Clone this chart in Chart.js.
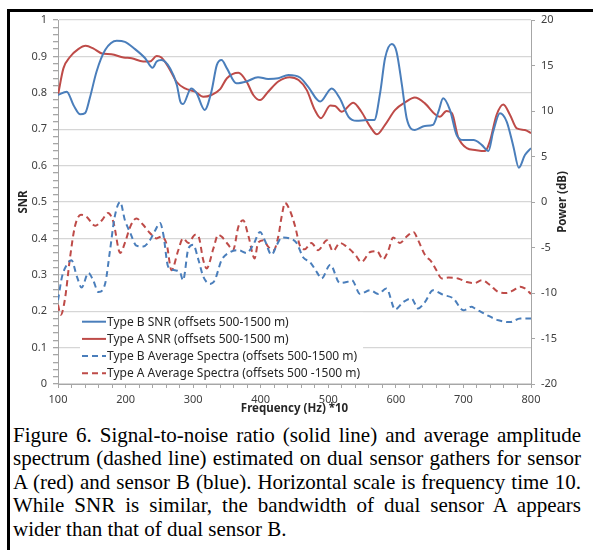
<!DOCTYPE html>
<html>
<head>
<meta charset="utf-8">
<script src="https://cdn.jsdelivr.net/npm/chart.js@4.4.1/dist/chart.umd.min.js"></script>
<style>
  body { margin: 0; background: #fff; width: 593px; height: 550px; overflow: hidden; position: relative; }
  #frame { position: absolute; left: 7px; top: 9px; width: 640px; height: 600px; border-left: 3px solid #000; border-top: 3px solid #000; }
  #snrChart { position: absolute; left: 0; top: 0; }
  #caption { position: absolute; left: 13px; top: 424px; width: 568px; font-family: "Liberation Serif", "Times New Roman", serif; font-size: 21px; line-height: 23.4px; text-align: justify; color: #000; }
</style>
</head>
<body>
<div id="frame"></div>
<canvas id="snrChart" width="593" height="420"></canvas>
<div id="caption">Figure 6. Signal-to-noise ratio (solid line) and average amplitude spectrum (dashed line) estimated on dual sensor gathers for sensor A (red) and sensor B (blue). Horizontal scale is frequency time 10. While SNR is similar, the bandwidth of dual sensor A appears wider than that of dual sensor B.</div>
<script>
// series labels
const seriesNames = ['Type B SNR (offsets 500-1500 m)', 'Type A SNR (offsets 500-1500 m)',
  'Type B Average Spectra (offsets 500-1500 m)', 'Type A Average Spectra (offsets 500 -1500 m)'];

// Type B SNR (blue solid, left axis)
const bSnrFreq = [100,113,123,133,140,147,157,170,187,199,214,229,240,246,253,266,276,281,285,297,305,317,327,335,342,350,364,379,396,411,426,441,458,470,488,505,517,530,542,557,568,577,584,594,601,609,616,628,643,655,663,670,680,690,700,715,727,737,744,754,764,774,782,791,800];
const bSnr = [0.794,0.803,0.766,0.741,0.744,0.785,0.858,0.918,0.943,0.940,0.920,0.895,0.869,0.886,0.890,0.867,0.821,0.776,0.769,0.812,0.799,0.753,0.803,0.876,0.890,0.867,0.826,0.831,0.843,0.838,0.840,0.849,0.842,0.817,0.776,0.812,0.785,0.734,0.723,0.725,0.725,0.803,0.895,0.934,0.913,0.821,0.730,0.698,0.709,0.712,0.748,0.785,0.753,0.684,0.670,0.670,0.657,0.640,0.693,0.744,0.721,0.652,0.594,0.629,0.648];

// Type A SNR (red solid, left axis)
const aSnrFreq = [100,108,118,130,141,152,165,179,197,209,226,236,246,253,263,276,288,303,315,327,340,350,367,379,389,399,411,426,443,456,468,480,489,503,510,520,537,549,562,572,584,599,614,628,643,658,665,675,683,692,705,717,732,739,749,759,769,779,791,800];
const aSnr = [0.794,0.867,0.899,0.920,0.929,0.922,0.908,0.906,0.897,0.895,0.886,0.886,0.901,0.897,0.872,0.829,0.812,0.803,0.789,0.794,0.810,0.840,0.855,0.831,0.794,0.780,0.803,0.831,0.843,0.835,0.808,0.753,0.730,0.765,0.764,0.748,0.773,0.748,0.707,0.686,0.712,0.753,0.774,0.787,0.771,0.741,0.734,0.750,0.744,0.679,0.648,0.643,0.640,0.666,0.739,0.768,0.739,0.702,0.698,0.689];

// Type B average spectra in dB (blue dashed, right axis)
const bSpecFreq = [100,106,113,120,128,135,145,152,160,170,177,184,192,199,207,216,226,236,244,251,256,263,273,281,285,293,300,308,315,325,332,342,355,367,379,389,399,406,416,424,431,443,453,463,473,483,490,503,517,527,535,547,562,574,586,599,611,623,633,643,655,670,685,700,712,717,734,752,769,784,800];
const bSpec = [-10.8,-8.2,-6.9,-6.4,-8.2,-9.4,-7.8,-8.6,-9.9,-8.9,-5.3,-1.6,0,-2.0,-3.4,-4.8,-4.9,-4.2,-3.1,-2.3,-3.6,-7.1,-7.5,-7.8,-8.6,-5.1,-4.7,-6.4,-8.2,-9.0,-8.6,-6.4,-5.5,-5.3,-5.6,-4.7,-3.3,-4.2,-5.8,-4.7,-3.9,-4.0,-4.5,-6.1,-6.6,-7.7,-8.4,-6.9,-8.9,-8.8,-8.6,-10.1,-9.7,-10.1,-9.5,-11.8,-11.0,-10.6,-11.7,-11.0,-9.7,-10.2,-10.6,-11.9,-11.5,-11.7,-12.4,-13.0,-13.2,-12.8,-12.8];

// Type A average spectra in dB (red dashed, right axis)
const aSpecFreq = [100,104,110,118,125,134,142,155,165,174,182,192,199,207,216,226,236,246,253,261,268,278,285,293,303,308,315,320,330,337,342,352,359,367,374,382,391,396,404,411,419,426,431,436,443,451,458,465,475,485,498,507,517,527,540,549,562,572,581,589,596,606,616,626,633,643,653,660,668,678,692,705,717,727,739,752,764,774,784,791,800];
const aSpec = [-11.3,-12.4,-10.8,-6.0,-2.7,-1.4,-1.6,-2.6,-2.0,-1.2,-2.2,-5.6,-4.5,-2.7,-1.8,-2.5,-3.4,-4.0,-3.8,-4.7,-7.5,-5.3,-4.0,-4.5,-3.6,-3.8,-6.4,-7.3,-5.1,-3.6,-3.8,-4.7,-5.3,-2.7,-2.0,-3.8,-6.2,-4.5,-4.2,-4.9,-5.3,-3.8,-1.6,-0.1,-0.9,-2.7,-4.8,-5.2,-4.5,-5.3,-4.2,-5.4,-4.5,-4.9,-5.8,-6.6,-5.5,-5.4,-6.3,-5.3,-3.9,-4.5,-3.8,-3.3,-4.2,-5.8,-6.6,-7.5,-8.4,-8.3,-8.4,-8.8,-8.9,-8.6,-9.1,-9.9,-10.0,-9.7,-9.3,-9.5,-10.1];

// tick labels
const freqTicks = [100,200,300,400,500,600,700,800];
const snrTicks = [0,0.1,0.2,0.3,0.4,0.5,0.6,0.7,0.8,0.9,1];
const powerTicks = [-20,-15,-10,-5,0,5,10,15,20];

const blue = '#4a7ebb';
const red = '#be4b48';
const tickFont = {family: '"Noto Sans", "Open Sans", sans-serif', size: 11};
const titleFont = {family: '"Noto Sans", "Open Sans", sans-serif', size: 11.5, weight: 'bold'};

function toPoints(xs, ys)
{
  return xs.map((x, i) => ({x: x, y: ys[i]}));
}

function isMajor(v, step)
{
  return Math.abs(v / step - Math.round(v / step)) < 1e-6;
}

// draws the legend box in the lower left of the plot and the right axis title
const extrasPlugin = {
  id: 'extras',
  afterDatasetsDraw(chart) {
    const c = chart.ctx;
    const area = chart.chartArea;
    const x0 = area.left + 24;
    const rowH = 17.2;
    const y0 = area.bottom - 62.3;
    c.save();
    c.font = '12px "Noto Sans", "Open Sans", sans-serif';
    let w = 0;
    chart.data.datasets.forEach(ds => { w = Math.max(w, c.measureText(ds.label).width); });
    c.fillStyle = '#fff';
    c.fillRect(x0 - 2, y0 - 9, w + 30, rowH * 3 + 18);
    chart.data.datasets.forEach((ds, i) => {
      const y = y0 + i * rowH;
      c.strokeStyle = ds.borderColor;
      c.lineWidth = 2;
      c.setLineDash(ds.borderDash || []);
      c.beginPath();
      c.moveTo(x0, y);
      c.lineTo(x0 + 24, y);
      c.stroke();
      c.setLineDash([]);
      c.fillStyle = '#262626';
      c.textBaseline = 'middle';
      c.textAlign = 'left';
      c.fillText(ds.label, x0 + 25, y + 0.5);
    });
    c.restore();
  },
  afterDraw(chart) {
    const c = chart.ctx;
    const right = chart.scales.y2;
    const area = chart.chartArea;
    c.save();
    c.translate(right.left + 32, (area.top + area.bottom) / 2);
    c.rotate(-Math.PI / 2);
    c.font = 'bold 11.5px "Noto Sans", "Open Sans", sans-serif';
    c.fillStyle = '#262626';
    c.textAlign = 'center';
    c.textBaseline = 'middle';
    c.fillText('Power (dB)', 0, 0);
    c.restore();
  }
};

const ctx = document.getElementById('snrChart');

const snrChart = new Chart(ctx, {
  type: 'line',
  data: {
    datasets: [
      {label: seriesNames[0], data: toPoints(bSnrFreq, bSnr), borderColor: blue, yAxisID: 'y'},
      {label: seriesNames[1], data: toPoints(aSnrFreq, aSnr), borderColor: red, yAxisID: 'y'},
      {label: seriesNames[2], data: toPoints(bSpecFreq, bSpec), borderColor: blue, borderDash: [6, 4], yAxisID: 'y2'},
      {label: seriesNames[3], data: toPoints(aSpecFreq, aSpec), borderColor: red, borderDash: [6, 4], yAxisID: 'y2'}
    ]
  },
  options: {
    responsive: false,
    animation: false,
    events: [],
    layout: {padding: {top: 20, left: 0, right: 0, bottom: 0}},
    elements: {
      point: {radius: 0},
      line: {borderWidth: 2, cubicInterpolationMode: 'monotone', fill: false}
    },
    plugins: {legend: {display: false}, tooltip: {enabled: false}},
    scales: {
      x: {
        type: 'linear', min: 100, max: 800,
        afterFit: s => { s.height = 36; },
        afterBuildTicks: s => { s.ticks = []; for (let v = freqTicks[0]; v <= freqTicks[freqTicks.length - 1]; v += 20) s.ticks.push({value: v}); },
        ticks: {
          autoSkip: false, maxRotation: 0, padding: 5, color: '#404040', font: tickFont,
          callback: v => freqTicks.includes(v) ? String(v) : ''
        },
        grid: {drawOnChartArea: false, tickLength: 4, tickColor: '#a6a6a6'},
        border: {color: '#a6a6a6'},
        title: {display: true, text: 'Frequency (Hz) *10', font: titleFont, color: '#262626', padding: {top: 0, bottom: 4}}
      },
      y: {
        position: 'left', min: 0, max: 1,
        afterFit: s => { s.width = 58; },
        afterBuildTicks: s => { s.ticks = []; for (let i = 0; i <= 50; i++) s.ticks.push({value: i / 50}); },
        ticks: {
          autoSkip: false, padding: 6, color: '#404040', font: tickFont,
          callback: v => { const m = snrTicks.find(t => Math.abs(t - v) < 1e-6); return m === undefined ? '' : String(m); }
        },
        grid: {
          tickLength: 5, tickColor: '#a6a6a6', lineWidth: 1.3,
          color: c => isMajor(c.tick.value, 0.1) ? '#d6d6d6' : 'rgba(0,0,0,0)'
        },
        border: {color: '#a6a6a6'},
        title: {display: true, text: 'SNR', font: titleFont, color: '#262626', padding: {top: 17, bottom: 0}}
      },
      y2: {
        position: 'right', min: -20, max: 20,
        afterFit: s => { s.width = 62; },
        afterBuildTicks: s => { s.ticks = powerTicks.slice().map(v => ({value: v})); },
        ticks: {autoSkip: false, padding: 6, color: '#404040', font: tickFont},
        grid: {drawOnChartArea: false, tickLength: 4, tickColor: '#a6a6a6'},
        border: {color: '#a6a6a6'}
      }
    }
  },
  plugins: [extrasPlugin]
});
</script>
</body>
</html>
